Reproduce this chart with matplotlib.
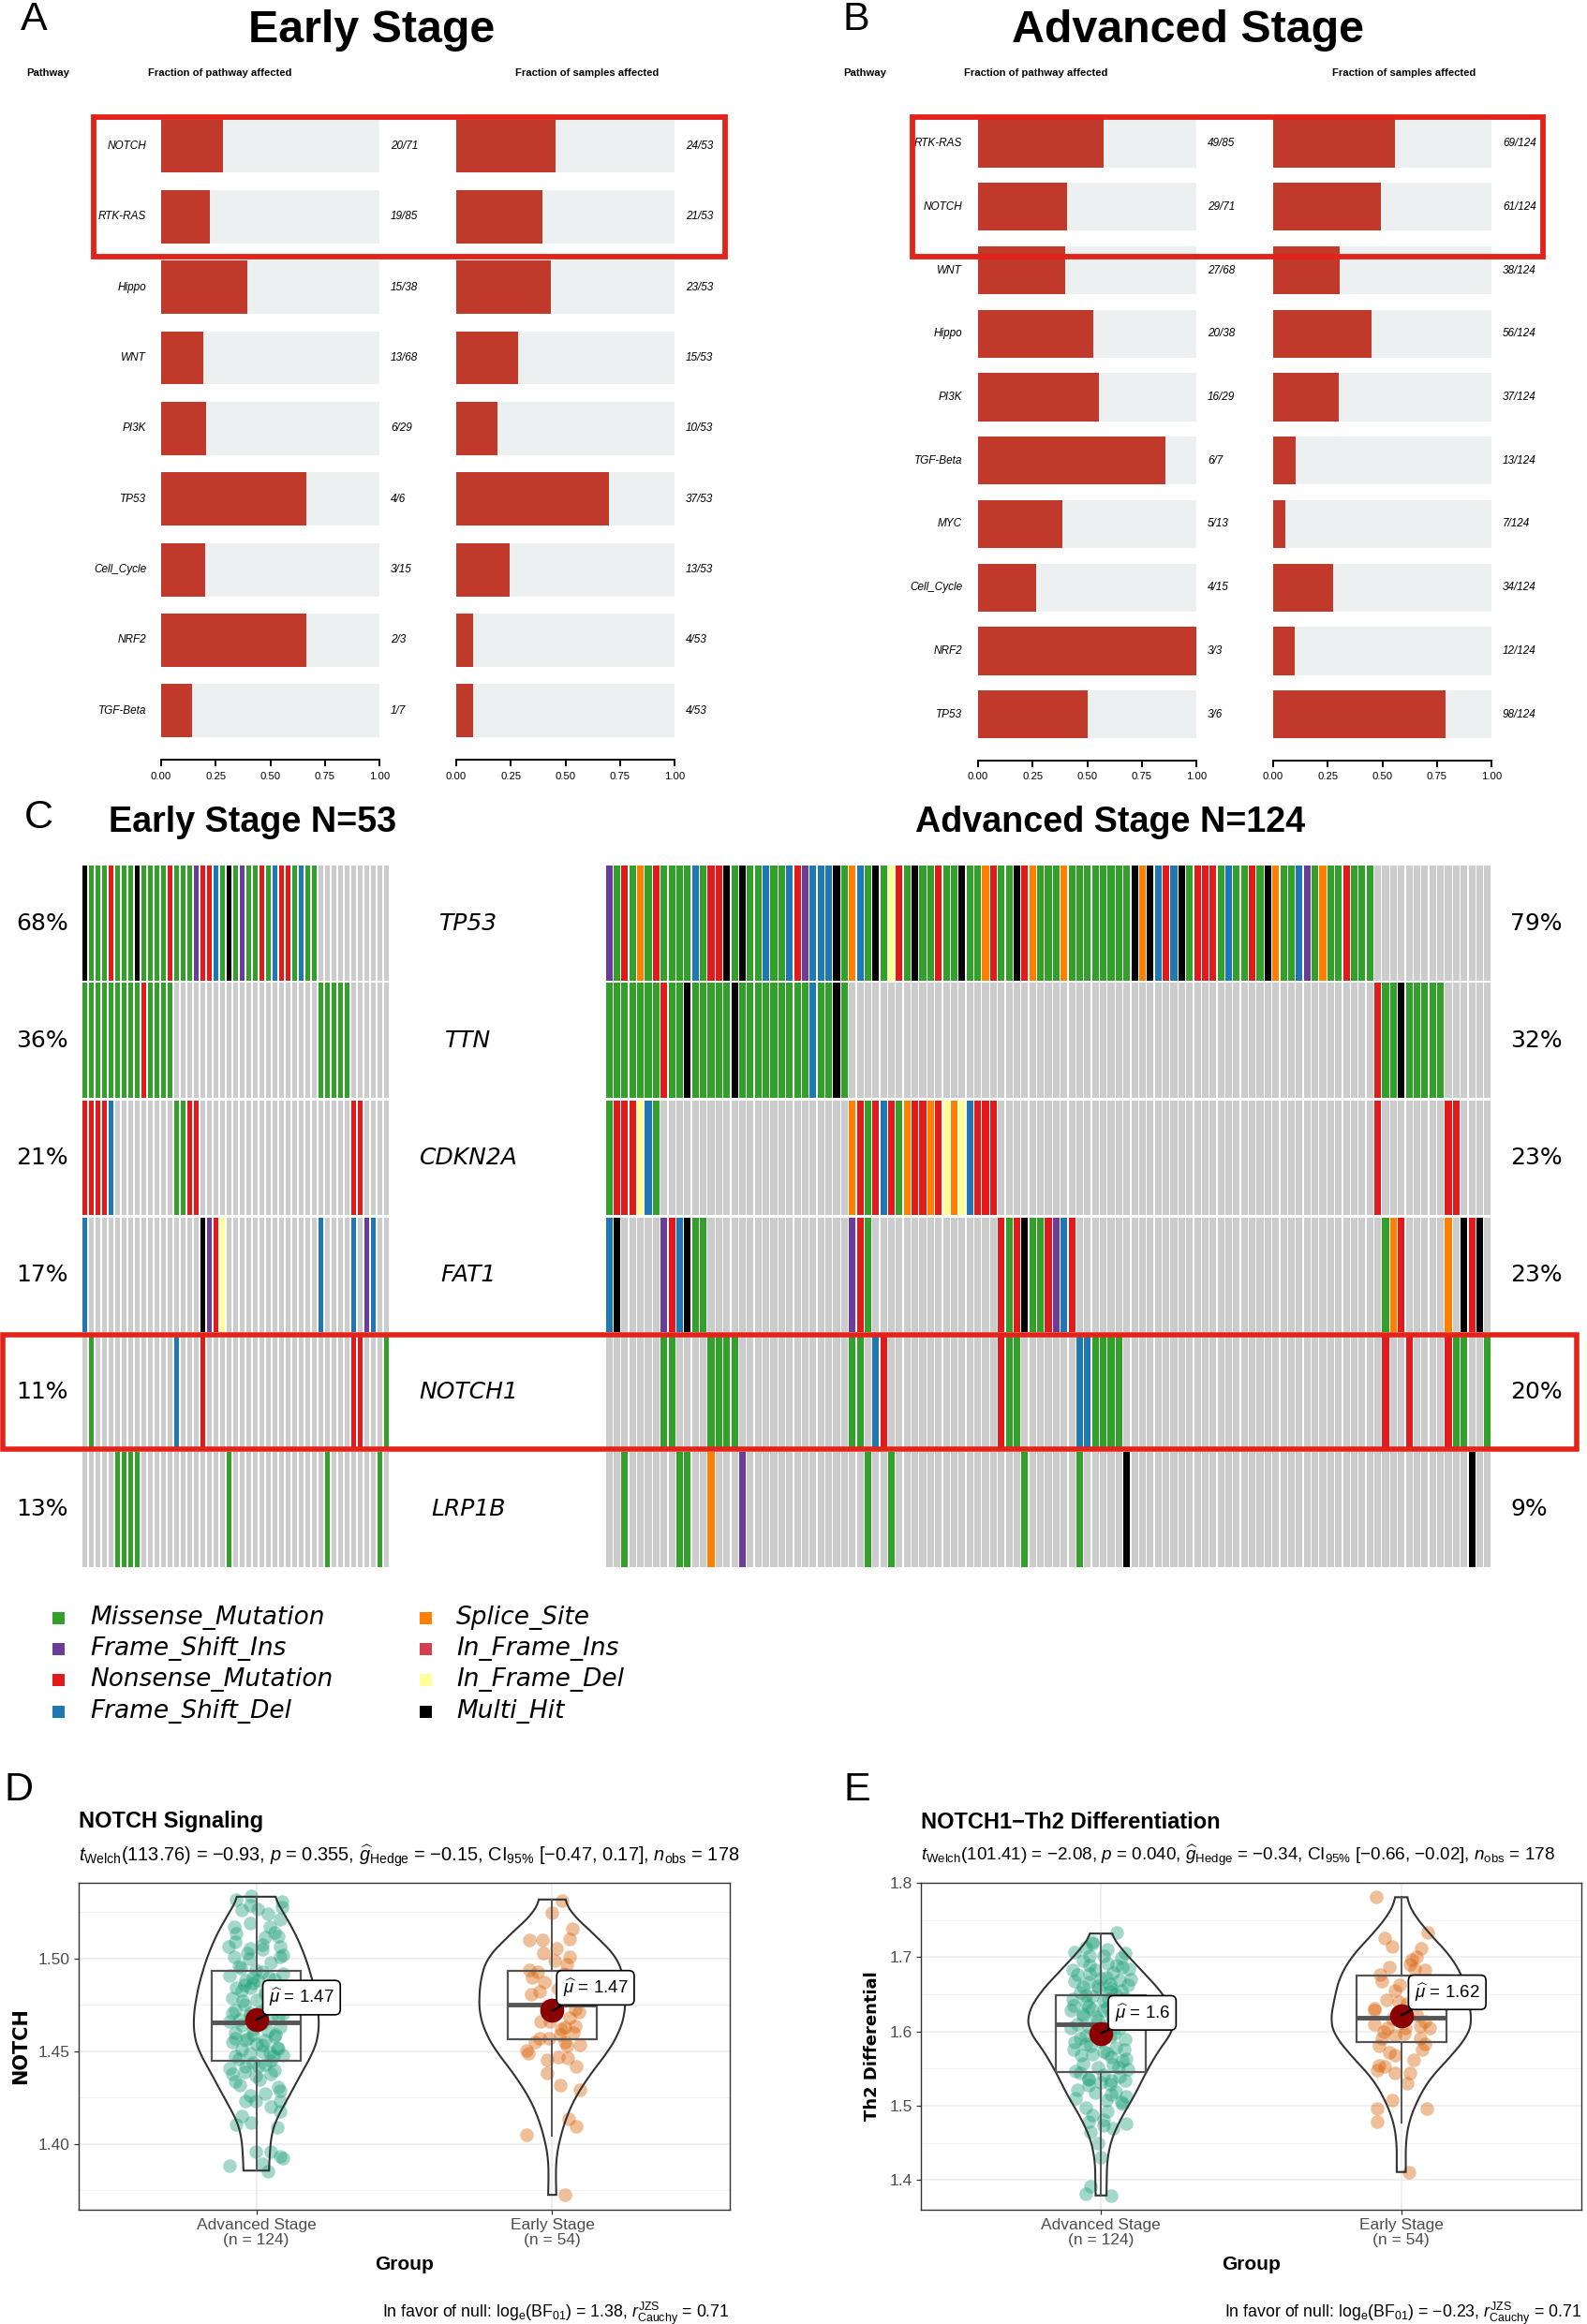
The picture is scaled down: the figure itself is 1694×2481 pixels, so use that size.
import numpy as np
import matplotlib
matplotlib.use("Agg")
import matplotlib.pyplot as plt
from matplotlib import font_manager as fm
from matplotlib.patches import Rectangle

# ======================= DATA =======================
# Panel A : Early stage oncogenic pathways
A_pathways = ["NOTCH", "RTK-RAS", "Hippo", "WNT", "PI3K", "TP53", "Cell_Cycle", "NRF2", "TGF-Beta"]
A_pw_mut = [20, 19, 15, 13, 6, 4, 3, 2, 1]
A_pw_tot = [71, 85, 38, 68, 29, 6, 15, 3, 7]
A_smp_mut = [24, 21, 23, 15, 10, 37, 13, 4, 4]
A_smp_tot = [53, 53, 53, 53, 53, 53, 53, 53, 53]

# Panel B : Advanced stage oncogenic pathways
B_pathways = ["RTK-RAS", "NOTCH", "WNT", "Hippo", "PI3K", "TGF-Beta", "MYC", "Cell_Cycle", "NRF2", "TP53"]
B_pw_mut = [49, 29, 27, 20, 16, 6, 5, 4, 3, 3]
B_pw_tot = [85, 71, 68, 38, 29, 7, 13, 15, 3, 6]
B_smp_mut = [69, 61, 38, 56, 37, 13, 7, 34, 12, 98]
B_smp_tot = [124, 124, 124, 124, 124, 124, 124, 124, 124, 124]

# Panel C : oncoplot (one character per sample column)
# M Missense, I Frame_Shift_Ins, N Nonsense, D Frame_Shift_Del, S Splice_Site,
# F In_Frame_Ins, E In_Frame_Del, H Multi_Hit, . not mutated
genes = ["TP53", "TTN", "CDKN2A", "FAT1", "NOTCH1", "LRP1B"]
early_N = 53
adv_N = 124
early_onc = [
    "HMMMNMMMHMMMMNMMMINNDMHMIMMNMDNNMDMM" + "." * 11,
    "MMMMMMMMMNMMMM" + "." * 22 + "MMMMM" + "." * 6,
    "NNNND" + "." * 9 + "MMNN" + "." * 23 + "NN" + "." * 4,
    "D" + "." * 17 + "HINE" + "." * 14 + "D" + "." * 4 + "D.ID" + "..",
    ".M" + "." * 12 + "D" + "..." + "N" + "." * 22 + "NN" + "..." + "M",
    "." * 5 + "MMMM" + "." * 13 + "M" + "." * 14 + "M" + "." * 7 + "M" + ".",
]
adv_onc = [
    "IMNMSMNMMM" "MDMNNHMHMM" "DMMDNIDDDH" "MSDMHMENMH" "MMNMMHMMSN" "MMHNSMMM"
    "SMMMMMMMMH" "SHDNDHMNNN" "MDMMNMHSMM" "DIMSMMNMMM" + "." * 15,
    "MMMMMMM" + "N" + "MM" + "H" + "MMMMM" + "H" + "MMMMMMMMM" + "D" + "MM" + "H" + "M"
    + "." * 67 + "NMMHMMMMM" + "." * 6,
    "MNNNEDM" + "." * 24 + "SNMNDNMSNNSNESEDNNN" + "." * 48 + "N" + "." * 8 + "NN" + "." * 4,
    "DH" + "." * 5 + "INDHMM" + "." * 18 + "INM" + "." * 16 + "NMNHMMNIDN" + "." * 39
    + "MSN" + "." * 5 + "S.HNH.",
    "." * 7 + "MM" + "." * 4 + "MMMM" + "." * 14 + "MM" + "." + "DN" + "." * 14 + "NMM" + "." * 7
    + "DDMMMM" + "." * 33 + "N" + ".." + "N" + "." * 4 + "NMM" + ".." + "M",
    ".." + "M" + "." * 6 + "MM" + ".." + "S" + "..." + "I" + "." * 15 + "M" + ".." + "M" + "." * 16
    + "M" + "." * 6 + "M" + "." * 5 + "H" + "." * 43 + "H" + "..",
]
vc_codes = ["M", "I", "N", "D", "S", "F", "E", "H"]
vc_names = ["Missense_Mutation", "Frame_Shift_Ins", "Nonsense_Mutation", "Frame_Shift_Del",
            "Splice_Site", "In_Frame_Ins", "In_Frame_Del", "Multi_Hit"]

# Panel D / E : (jitter offset, value) for each sample
D_adv_pts = [(-0.069,1.5318),(-0.017,1.5337),(-0.021,1.5289),(0.005,1.5270),(0.087,1.5308),(0.087,1.5279),
    (0.079,1.5211),(-0.075,1.5173),(-0.069,1.5134),(0.045,1.5173),(0.031,1.5114),(0.074,1.5120),(-0.094,1.5066),
    (-0.021,1.5056),(0.022,1.5076),(0.079,1.5066),(-0.075,1.5008),(-0.024,1.4998),(0.082,1.5008),(-0.051,1.4950),
    (-0.003,1.4940),(-0.012,1.4901),(0.005,1.4882),(-0.038,1.4882),(0.043,1.4901),(0.091,1.4920),(-0.069,1.4843),
    (-0.021,1.4843),(0.031,1.4824),(-0.046,1.4775),(-0.081,1.4707),(-0.021,1.4707),(-0.055,1.4669),(0.031,1.4727),
    (0.074,1.4688),(-0.072,1.4572),(-0.012,1.4591),(-0.038,1.4562),(0.022,1.4533),(0.065,1.4591),(0.074,1.4514),
    (-0.072,1.4475),(0.045,1.4494),(0.057,1.4475),(-0.038,1.4417),(0.009,1.4417),(-0.081,1.4378),(-0.003,1.4368),
    (0.048,1.4378),(-0.055,1.4320),(0.074,1.4310),(0.031,1.4271),(-0.038,1.4233),(-0.003,1.4233),(0.079,1.4233),
    (0.082,1.4174),(-0.069,1.4107),(-0.017,1.4116),(-0.003,1.3961),(0.048,1.3961),(0.079,1.3932),(0.091,1.3922),
    (-0.089,1.3884),(0.039,1.3855),(0.022,1.3893),
    (-0.03,1.503),(0.05,1.498),(-0.06,1.496),(0.02,1.493),(-0.09,1.491),(0.06,1.489),(-0.01,1.487),(0.08,1.485),
    (-0.05,1.483),(0.03,1.481),(-0.08,1.479),(0.00,1.478),(0.07,1.476),(-0.04,1.475),(0.04,1.474),(-0.07,1.472),
    (0.01,1.471),(0.09,1.470),(-0.02,1.469),(0.05,1.468),(-0.09,1.466),(0.02,1.465),(-0.05,1.464),(0.08,1.463),
    (-0.01,1.462),(0.04,1.461),(-0.07,1.460),(0.06,1.458),(-0.03,1.457),(0.03,1.456),(-0.08,1.455),(0.00,1.454),
    (0.07,1.452),(-0.05,1.451),(0.02,1.450),(-0.02,1.449),(0.09,1.448),(-0.06,1.446),(0.05,1.445),(-0.01,1.444),
    (0.03,1.443),(-0.09,1.441),(0.06,1.440),(-0.04,1.439),(0.01,1.435),(-0.07,1.434),(0.08,1.429),(-0.02,1.426),
    (0.05,1.420),(-0.05,1.415),(0.07,1.409),(0.02,1.505),(-0.07,1.509),(0.06,1.514),(-0.02,1.519),(0.04,1.524),
    (-0.05,1.526),(0.09,1.502),(-0.04,1.486)]
D_early_pts = [(0.034,1.5312),(0.0,1.5246),(0.069,1.5163),(-0.077,1.5101),(-0.034,1.5101),(0.06,1.5105),
    (0.014,1.5056),(0.06,1.5008),(0.009,1.4988),(-0.077,1.4940),(-0.069,1.4901),(-0.026,1.4872),(0.06,1.4862),
    (-0.043,1.4824),(0.039,1.4795),(0.077,1.4727),(-0.009,1.4659),(0.043,1.4630),(0.077,1.4634),(0.026,1.4591),
    (-0.043,1.4572),(-0.06,1.4552),(0.043,1.4552),(-0.086,1.4504),(0.094,1.4533),(-0.017,1.4455),(0.051,1.4465),
    (-0.017,1.4382),(0.026,1.4320),(0.094,1.4291),(0.057,1.4136),(0.082,1.4097),(-0.086,1.4048),(0.043,1.3729),
    (0.05,1.497),(-0.05,1.493),(0.08,1.488),(0.02,1.484),(-0.07,1.481),(0.04,1.477),(-0.02,1.474),(0.09,1.471),
    (0.06,1.468),(-0.04,1.466),(0.03,1.462),(0.07,1.460),(-0.01,1.457),(0.05,1.453),(-0.08,1.449),(0.02,1.447),
    (0.08,1.442),(-0.03,1.503),(0.04,1.492),(0.01,1.470)]
E_adv_pts = [(0.051,1.7331),(-0.029,1.7186),(-0.088,1.7064),(-0.037,1.7016),(0.008,1.7016),(0.067,1.6992),
    (-0.037,1.6895),(0.051,1.6895),(0.093,1.6846),(-0.093,1.6822),(-0.037,1.6774),(0.017,1.6725),(0.098,1.6701),
    (-0.088,1.6677),(-0.059,1.6604),(-0.008,1.6580),(0.034,1.6580),(0.067,1.6556),(-0.093,1.6434),(-0.051,1.6483),
    (0.025,1.6434),(-0.101,1.6289),(-0.042,1.6337),(0.008,1.6289),(-0.059,1.6240),(-0.017,1.6192),(0.034,1.6240),
    (-0.101,1.6047),(-0.051,1.5950),(0.0,1.6022),(0.042,1.5974),(-0.088,1.5853),(-0.034,1.5804),(0.008,1.5731),
    (0.076,1.5756),(-0.067,1.5683),(0.034,1.5659),(0.084,1.5635),(0.059,1.5513),(-0.084,1.5465),(-0.042,1.5368),
    (0.0,1.5319),(0.034,1.5344),(0.081,1.5344),(-0.042,1.5271),(0.034,1.5150),(0.084,1.5126),(-0.084,1.5101),
    (0.017,1.5077),(0.067,1.5053),(-0.042,1.4786),(0.008,1.4810),(0.084,1.4762),(0.008,1.4738),(-0.034,1.4641),
    (0.0,1.4301),(-0.034,1.3914),(-0.051,1.3817),(0.034,1.3792),
    (-0.06,1.695),(0.02,1.691),(0.07,1.687),(-0.02,1.683),(0.04,1.679),(-0.08,1.676),(0.00,1.672),(0.06,1.669),
    (-0.04,1.666),(0.09,1.663),(-0.01,1.661),(0.03,1.654),(-0.07,1.652),(0.05,1.650),(-0.03,1.647),(0.08,1.645),
    (0.01,1.641),(-0.05,1.639),(0.06,1.637),(-0.09,1.635),(0.02,1.632),(-0.03,1.630),(0.07,1.627),(-0.06,1.621),
    (0.04,1.617),(-0.01,1.615),(0.09,1.612),(-0.08,1.610),(0.02,1.608),(-0.04,1.606),(0.06,1.604),(-0.02,1.599),
    (0.03,1.593),(-0.07,1.591),(0.08,1.589),(0.00,1.587),(-0.05,1.583),(0.05,1.578),(-0.09,1.576),(0.02,1.571),
    (-0.03,1.569),(0.07,1.560),(-0.06,1.557),(0.04,1.555),(-0.01,1.552),(0.09,1.549),(-0.07,1.544),(0.01,1.541),
    (0.06,1.539),(-0.04,1.535),(0.03,1.529),(-0.08,1.522),(0.05,1.519),(-0.02,1.517),(0.07,1.503),(-0.05,1.498),
    (0.02,1.492),(-0.03,1.487),(0.04,1.470),(-0.01,1.450),(0.02,1.710),(-0.05,1.713),(0.08,1.705),(-0.03,1.720),
    (0.03,1.664)]
E_early_pts = [(-0.084,1.7806),(-0.056,1.7258),(-0.030,1.7137),(0.067,1.7113),(0.034,1.6967),(0.088,1.7331),
    (-0.039,1.6871),(0.046,1.6846),(0.079,1.6822),(-0.064,1.6677),(-0.005,1.6628),(0.079,1.6677),(-0.089,1.6313),
    (-0.013,1.6240),(-0.089,1.6095),(-0.047,1.6047),(0.012,1.6047),(0.062,1.6071),(0.096,1.6047),(-0.064,1.5901),
    (-0.022,1.5950),(0.062,1.5901),(0.079,1.5828),(-0.073,1.5804),(-0.022,1.5683),(-0.073,1.5538),(-0.056,1.5523),
    (0.029,1.5441),(-0.022,1.5441),(-0.030,1.5077),(-0.081,1.4956),(0.084,1.4956),(-0.081,1.4786),(0.025,1.4108),
    (0.03,1.690),(-0.07,1.676),(0.06,1.661),(-0.02,1.655),(0.09,1.648),(-0.05,1.642),(0.02,1.637),(-0.09,1.628),
    (0.05,1.622),(-0.03,1.617),(0.08,1.613),(-0.06,1.600),(0.01,1.597),(0.07,1.575),(-0.04,1.572),(0.04,1.562),
    (-0.08,1.548),(0.02,1.530),(-0.01,1.640),(0.05,1.700)]

# violin outlines (value, half width)
D_adv_violin = [(1.5334,0.060),(1.525,0.091),(1.513,0.134),(1.500,0.168),(1.486,0.194),(1.471,0.211),(1.459,0.211),
                (1.450,0.194),(1.4377,0.151),(1.425,0.108),(1.4125,0.065),(1.4048,0.051),(1.400,0.048),(1.393,0.045),
                (1.3857,0.043)]
D_early_violin = [(1.5319,0.041),(1.525,0.060),(1.5134,0.140),(1.500,0.223),(1.486,0.245),(1.4707,0.247),
                  (1.459,0.223),(1.450,0.189),(1.4377,0.129),(1.425,0.077),(1.4125,0.043),(1.400,0.022),
                  (1.393,0.014),(1.383,0.012),(1.3726,0.014)]
E_adv_violin = [(1.7317,0.031),(1.7113,0.067),(1.682,0.135),(1.653,0.202),(1.624,0.245),(1.600,0.240),
                (1.5756,0.194),(1.5465,0.152),(1.5126,0.110),(1.4835,0.067),(1.4544,0.034),(1.4253,0.020),
                (1.401,0.019),(1.3792,0.018)]
E_early_violin = [(1.7806,0.017),(1.7598,0.037),(1.7307,0.096),(1.7016,0.164),(1.6725,0.206),(1.6434,0.223),
                  (1.6143,0.236),(1.595,0.223),(1.5659,0.164),(1.5368,0.096),(1.5077,0.054),(1.4777,0.025),
                  (1.4495,0.015),(1.4108,0.015)]
# box statistics: whislo, q1, median, q3, whishi
D_boxes = [(1.3856, 1.4449, 1.4655, 1.4934, 1.5334), (1.4047, 1.4565, 1.4752, 1.4934, 1.5319)]
E_boxes = [(1.3792, 1.5455, 1.6095, 1.6492, 1.7317), (1.4772, 1.5853, 1.6182, 1.6750, 1.7806)]
D_means = [1.467, 1.472]
E_means = [1.5975, 1.6216]
D_mean_labels = ["1.47", "1.47"]
E_mean_labels = ["1.6", "1.62"]
group_labels = ["Advanced Stage\n(n = 124)", "Early Stage\n(n = 54)"]

# ======================= STYLE / LAYOUT =======================
plt.rcParams['font.family'] = ['Liberation Sans', 'DejaVu Sans']
plt.rcParams['mathtext.fontset'] = 'custom'
plt.rcParams['mathtext.rm'] = 'Liberation Sans'
plt.rcParams['mathtext.it'] = 'Liberation Sans:italic'
plt.rcParams['mathtext.bf'] = 'Liberation Sans:bold'


def has_font(name):
    try:
        fm.findfont(fm.FontProperties(family=name), fallback_to_default=False)
        return True
    except Exception:
        return False


if has_font('Liberation Sans Narrow'):
    NARROW, NSC = 'Liberation Sans Narrow', 1.0
else:
    NARROW, NSC = 'Liberation Sans', 0.85

W, H = 1694, 2481
fig = plt.figure(figsize=(W / 100, H / 100), dpi=100)
PT = 0.72  # px -> pt


def add_ax(x0, y0, x1, y1):
    return fig.add_axes([x0 / W, 1 - y1 / H, (x1 - x0) / W, (y1 - y0) / H])


def ftext(x, y, s, **kw):
    return fig.text(x / W, 1 - y / H, s, **kw)


def frect(x0, y0, x1, y1, **kw):
    r = Rectangle((x0 / W, 1 - y1 / H), (x1 - x0) / W, (y1 - y0) / H,
                  transform=fig.transFigure, **kw)
    fig.add_artist(r)
    return r


RED_BAR = '#c0392b'
GRAY_BAR = '#ecf0f1'
BOX_RED = '#E2231A'


def pathway_panel(names, pm, pt, sm, st, xl, xr, c0, sp, axis_y, lab_gap, frac_gap):
    n = len(names)
    ymax = (axis_y - c0) / sp
    for k, ((xa, xb), num, den) in enumerate([(xl, pm, pt), (xr, sm, st)]):
        ax = add_ax(xa, c0 - 0.5 * sp, xb, axis_y)
        num = np.asarray(num)
        den = np.asarray(den)
        ypos = np.arange(n)
        ax.barh(ypos, np.ones(n), height=0.755, color=GRAY_BAR, linewidth=0)
        ax.barh(ypos, num / den, height=0.755, color=RED_BAR, linewidth=0)
        ax.set_xlim(0, 1)
        ax.set_ylim(ymax, -0.5)
        for s in ['top', 'right', 'left']:
            ax.spines[s].set_visible(False)
        ax.spines['bottom'].set_linewidth(1.4)
        ax.set_yticks([])
        ax.set_xticks([0, 0.25, 0.5, 0.75, 1.0])
        ax.set_xticklabels(['0.00', '0.25', '0.50', '0.75', '1.00'])
        ax.tick_params(axis='x', length=5, width=1.4, pad=4, labelsize=9.5 * NSC)
        for lab in ax.get_xticklabels():
            lab.set_family(NARROW)
        ax.patch.set_visible(False)
        for i in range(n):
            ax.annotate(f"{num[i]}/{den[i]}", xy=(1, i), xycoords=('axes fraction', 'data'),
                        xytext=(frac_gap * PT, 0), textcoords='offset points', ha='left', va='center',
                        fontsize=10 * NSC, family=NARROW, style='italic', annotation_clip=False)
            if k == 0:
                ax.annotate(names[i], xy=(0, i), xycoords=('axes fraction', 'data'),
                            xytext=(-lab_gap * PT, 0), textcoords='offset points', ha='right',
                            va='center', fontsize=10 * NSC, family=NARROW, style='italic',
                            annotation_clip=False)


# ---------------- Panel A ----------------
ftext(22, 32, "A", fontsize=31, va='baseline')
ftext(397, 45, "Early Stage", fontsize=41 * NSC, weight='bold', family=NARROW, ha='center', va='baseline')
for x, s, ha in [(28, "Pathway", 'left'), (235, "Fraction of pathway affected", 'center'),
                 (627, "Fraction of samples affected", 'center')]:
    ftext(x, 78, s, fontsize=9.5 * NSC, weight='bold', family=NARROW, ha=ha, va='center')
pathway_panel(A_pathways, A_pw_mut, A_pw_tot, A_smp_mut, A_smp_tot,
              (172, 405), (487, 720), 156, 75.35, 811, 16, 12)
frect(100, 125, 774, 274, fill=False, edgecolor=BOX_RED, linewidth=4.2, zorder=10)

# ---------------- Panel B ----------------
ftext(899, 32, "B", fontsize=31, va='baseline')
ftext(1268, 45, "Advanced Stage", fontsize=41 * NSC, weight='bold', family=NARROW, ha='center', va='baseline')
for x, s, ha in [(900, "Pathway", 'left'), (1106, "Fraction of pathway affected", 'center'),
                 (1499, "Fraction of samples affected", 'center')]:
    ftext(x, 78, s, fontsize=9.5 * NSC, weight='bold', family=NARROW, ha=ha, va='center')
pathway_panel(B_pathways, B_pw_mut, B_pw_tot, B_smp_mut, B_smp_tot,
              (1044, 1277), (1359, 1592), 153, 67.75, 812, 17, 12)
frect(974, 125, 1647, 274, fill=False, edgecolor=BOX_RED, linewidth=4.2, zorder=10)

# ---------------- Panel C ----------------
VC_COL = {'M': '#33A02C', 'I': '#6A3D9A', 'N': '#E31A1C', 'D': '#1F78B4', 'S': '#FF7F00',
          'F': '#D53E4F', 'E': '#FFFF99', 'H': '#000000', '.': '#CCCCCC'}
ONC_TOP, ONC_BOT = 923, 1674


def oncoprint(xa, xb, mat):
    ax = add_ax(xa, ONC_TOP, xb, ONC_BOT)
    ncol = max(len(s) for s in mat)
    for r, s in enumerate(mat):
        s = s.ljust(ncol, '.')
        cols = [VC_COL[ch] for ch in s]
        ax.bar(np.arange(ncol), np.full(ncol, 0.98), bottom=r - 0.49, width=0.85,
               color=cols, linewidth=0)
    ax.set_xlim(-0.5, ncol - 0.5)
    ax.set_ylim(len(mat) - 0.5, -0.5)
    ax.axis('off')
    return ax


ftext(26, 884, "C", fontsize=31, va='baseline')
ftext(270, 888, f"Early Stage N={early_N}", fontsize=32 * NSC, weight='bold', family=NARROW,
      ha='center', va='baseline')
ftext(1185, 888, f"Advanced Stage N={adv_N}", fontsize=32 * NSC, weight='bold', family=NARROW,
      ha='center', va='baseline')
oncoprint(87, 416, early_onc)
oncoprint(646, 1592, adv_onc)
row_h = (ONC_BOT - ONC_TOP) / len(genes)
for r, g in enumerate(genes):
    yc = ONC_TOP + (r + 0.5) * row_h
    pe = round(100 * sum(ch != '.' for ch in early_onc[r]) / early_N)
    pa = round(100 * sum(ch != '.' for ch in adv_onc[r]) / adv_N)
    ftext(45, yc, f"{pe}%", fontsize=18, family='DejaVu Sans', ha='center', va='center')
    ftext(1612, yc, f"{pa}%", fontsize=18, family='DejaVu Sans', ha='left', va='center')
    ftext(500, yc, g, fontsize=18, family='DejaVu Sans', style='italic', ha='center', va='center')
frect(3, 1425, 1683, 1547, fill=False, edgecolor=BOX_RED, linewidth=4.0, zorder=10)

# legend
leg_rows = [1727, 1760, 1793, 1827]
leg_cols = [(56, 96), (448, 487)]
for i, (code, name) in enumerate(zip(vc_codes, vc_names)):
    (xs, xt) = leg_cols[i // 4]
    y = leg_rows[i % 4]
    frect(xs, y - 6.5, xs + 13, y + 6.5, facecolor=VC_COL[code], edgecolor='none')
    ftext(xt, y, name, fontsize=19, family='DejaVu Sans', style='italic', ha='left', va='center')

# ---------------- Panels D / E ----------------
PT_COLS = ['#1B9E77', '#D95F02']
BOX_C = '#555555'


def smooth_outline(prof, n=300, win=25):
    prof = np.asarray(prof)
    yv, wv = prof[:, 0], prof[:, 1]
    o = np.argsort(yv)
    ys = np.linspace(yv.min(), yv.max(), n)
    ws = np.interp(ys, yv[o], wv[o])
    pad = win // 2
    wp = np.concatenate([np.full(pad, ws[0]), ws, np.full(pad, ws[-1])])
    ws = np.convolve(wp, np.ones(win) / win, mode='valid')
    return ys, ws


def stats_panel(box, ylim, yticks, ytlabels, yminor, pts, violins, boxes, means, mlabels, lab_pos,
                ylabel, ylab_size, ylab_x, title, subtitle, sub_size, caption, letter, letter_x):
    x0, y0, x1, y1 = box
    ax = add_ax(x0, y0, x1, y1)
    ax.set_xlim(0.4, 2.6)
    ax.set_ylim(*ylim)
    ax.set_yticks(yticks)
    ax.set_yticklabels(ytlabels)
    ax.set_yticks(yminor, minor=True)
    ax.set_xticks([1, 2])
    ax.set_xticklabels(group_labels, linespacing=1.05)
    ax.tick_params(which='major', length=3.5, width=0.9, color='#333333', labelcolor='#4D4D4D',
                   labelsize=12.5, pad=3)
    ax.tick_params(which='minor', length=0)
    ax.grid(True, which='major', color='#EBEBEB', lw=1.1, zorder=0)
    ax.grid(True, which='minor', axis='y', color='#F2F2F2', lw=0.7, zorder=0)
    ax.set_axisbelow(True)
    for s in ax.spines.values():
        s.set_color('#333333')
        s.set_linewidth(1.0)
    for k in range(2):
        p = np.asarray(pts[k])
        ax.scatter(k + 1 + p[:, 0], p[:, 1], s=110, color=PT_COLS[k], alpha=0.4, linewidths=0, zorder=2)
    for k in range(2):
        ys, ws = smooth_outline(violins[k])
        xo = np.concatenate([k + 1 - ws, (k + 1 + ws)[::-1]])
        yo = np.concatenate([ys, ys[::-1]])
        ax.fill(xo, yo, facecolor='none', edgecolor='#333333', lw=1.5, zorder=3)
    stats = [dict(whislo=b[0], q1=b[1], med=b[2], q3=b[3], whishi=b[4]) for b in boxes]
    ax.bxp(stats, positions=[1, 2], widths=0.3, showfliers=False, showcaps=False, patch_artist=True,
           boxprops=dict(facecolor='none', edgecolor=BOX_C, lw=1.6),
           medianprops=dict(color=BOX_C, lw=3.5), whiskerprops=dict(color=BOX_C, lw=1.4),
           zorder=3, manage_ticks=False)
    for k in range(2):
        ax.scatter([k + 1], [means[k]], s=340, color='#8B0000', zorder=5, linewidths=0)
        ax.annotate(r'$\widehat{\mu}$ = ' + mlabels[k], xy=(k + 1, means[k]), xytext=lab_pos[k],
                    textcoords='data', ha='center', va='center', fontsize=13.5, zorder=6,
                    bbox=dict(boxstyle='round,pad=0.35,rounding_size=0.3', fc='white', ec='black', lw=1.2),
                    arrowprops=dict(arrowstyle='-', color='black', lw=1.6, shrinkA=0, shrinkB=0))
    ax.set_ylabel(ylabel, fontsize=ylab_size, weight='bold', family='DejaVu Sans')
    ax.yaxis.set_label_coords(ylab_x, 0.5)
    ax.set_xlabel("Group", fontsize=15, weight='bold')
    ax.xaxis.set_label_coords(0.5, -0.14)
    ftext(x0, 1945, title, fontsize=17, weight='bold', va='center', ha='left')
    ftext(x0, 1981, subtitle, fontsize=sub_size, va='center', ha='left')
    ftext(x1, 2470, caption, fontsize=12.8, va='center', ha='right')
    ftext(letter_x, 1911, letter, fontsize=31, va='center', ha='left')
    return ax


stats_panel((84, 2010, 779, 2359), (1.3646, 1.5409), [1.40, 1.45, 1.50], ['1.40', '1.45', '1.50'],
            [1.375, 1.425, 1.475, 1.525], [D_adv_pts, D_early_pts], [D_adv_violin, D_early_violin],
            D_boxes, D_means, D_mean_labels, [(1.153, 1.479), (2.146, 1.4843)],
            "NOTCH", 15, -0.074, "NOTCH Signaling",
            r'$t_{\mathrm{Welch}}$(113.76) = −0.93, $p$ = 0.355, $\widehat{g}_{\mathrm{Hedge}}$ = −0.15, '
            r'CI$_{95\%}$ [−0.47, 0.17], $n_{\mathrm{obs}}$ = 178', 14.4,
            r'In favor of null: log$_{\mathrm{e}}$(BF$_{01}$) = 1.38, $r_{\mathrm{Cauchy}}^{\mathrm{JZS}}$ = 0.71',
            "D", 4)

stats_panel((983, 2010, 1688, 2359), (1.36, 1.80), [1.4, 1.5, 1.6, 1.7, 1.8],
            ['1.4', '1.5', '1.6', '1.7', '1.8'], [1.45, 1.55, 1.65, 1.75],
            [E_adv_pts, E_early_pts], [E_adv_violin, E_early_violin],
            E_boxes, E_means, E_mean_labels, [(1.137, 1.625), (2.153, 1.6526)],
            "Th2 Differential", 13, -0.061, "NOTCH1−Th2 Differentiation",
            r'$t_{\mathrm{Welch}}$(101.41) = −2.08, $p$ = 0.040, $\widehat{g}_{\mathrm{Hedge}}$ = −0.34, '
            r'CI$_{95\%}$ [−0.66, −0.02], $n_{\mathrm{obs}}$ = 178', 13.6,
            r'In favor of null: log$_{\mathrm{e}}$(BF$_{01}$) = −0.23, $r_{\mathrm{Cauchy}}^{\mathrm{JZS}}$ = 0.71',
            "E", 900)

fig.savefig("out.png", dpi=100, facecolor='white')
